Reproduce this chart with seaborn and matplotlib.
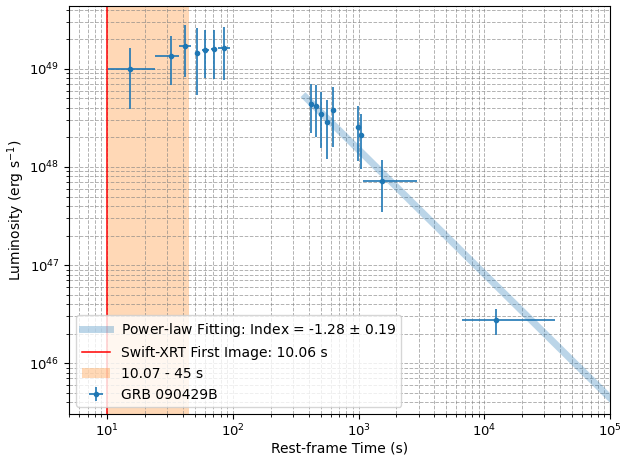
import numpy as np
import pandas as pd
import matplotlib
matplotlib.use('Agg')
import matplotlib.pyplot as plt
import seaborn as sns

# GRB 090429B rest-frame light curve
time_s = [15.1, 32.0, 41.6, 51.9, 60.5, 70.5, 85.1,
          415, 457, 501, 559, 621, 986, 1049, 1534, 12470]
time_lo = [10.07, 24.2, 37.3, 49.7, 57.3, 67.6, 76.8,
           407, 448, 491, 548, 609, 966, 1028, 1076, 6680]
time_hi = [23.9, 37.1, 46.8, 54.5, 64.3, 73.1, 94.5,
           423, 466, 511, 570, 633, 1006, 1070, 2897, 36560]
lum = [1.00e49, 1.34e49, 1.70e49, 1.45e49, 1.54e49, 1.59e49, 1.63e49,
       4.43e48, 4.23e48, 3.45e48, 2.86e48, 3.82e48, 2.56e48, 2.11e48, 7.21e47, 2.74e46]
lum_hi = [1.63e49, 2.17e49, 2.81e49, 2.59e49, 2.46e49, 2.50e49, 2.70e49,
          7.03e48, 6.87e48, 5.74e48, 4.83e48, 6.51e48, 4.23e48, 3.48e48, 1.18e48, 3.55e46]
lum_lo = [3.91e48, 6.87e48, 8.35e48, 5.35e48, 8.04e48, 7.85e48, 7.73e48,
          2.21e48, 2.00e48, 1.55e48, 1.21e48, 1.59e48, 1.16e48, 9.50e47, 3.46e47, 1.94e46]

# power-law fit end points
fit_t = [378, 1e5]
fit_L = [5.15e48, 4.43e45]

xrt_first = 10.06
span_lo, span_hi = 10.07, 45

df = pd.DataFrame({'t': time_s, 'L': lum})
df_fit = pd.DataFrame({'t': fit_t, 'L': fit_L})

plt.rcParams['font.family'] = ['DejaVu Sans']

fig, ax = plt.subplots(figsize=(6.22, 4.55), dpi=100)
fig.subplots_adjust(left=0.1114, right=0.9807, bottom=0.0901, top=0.9875)

sns.lineplot(data=df_fit, x='t', y='L', ax=ax, color='C0', alpha=0.3, lw=5,
             label='Power-law Fitting: Index = -1.28 $\\pm$ 0.19')
ax.axvline(xrt_first, color='red', lw=1.1, label='Swift-XRT First Image: 10.06 s')
ax.axvspan(span_lo, span_hi, color='C1', alpha=0.3, lw=0, label='10.07 - 45 s')

xerr = [np.array(time_s) - np.array(time_lo), np.array(time_hi) - np.array(time_s)]
yerr = [np.array(lum) - np.array(lum_lo), np.array(lum_hi) - np.array(lum)]
ax.errorbar(df['t'], df['L'], xerr=xerr, yerr=yerr, fmt='.', color='C0',
            ms=6, elinewidth=1.2, label='GRB 090429B')

ax.set_xscale('log')
ax.set_yscale('log')
ax.set_xlim(5, 1e5)
ax.set_ylim(3.04e45, 4.4e49)
ax.grid(True, which='both', ls='--', color='gray', alpha=0.6, lw=0.7)
ax.tick_params(axis='both', which='major', labelsize=9.5)
ax.tick_params(axis='x', which='major', pad=2.5)

ax.set_xlabel('Rest-frame Time (s)', labelpad=1.5)
ax.set_ylabel('Luminosity (erg s$^{-1}$)', labelpad=1.5)
ax.legend(loc='lower left')

fig.savefig('out.png', dpi=100)
